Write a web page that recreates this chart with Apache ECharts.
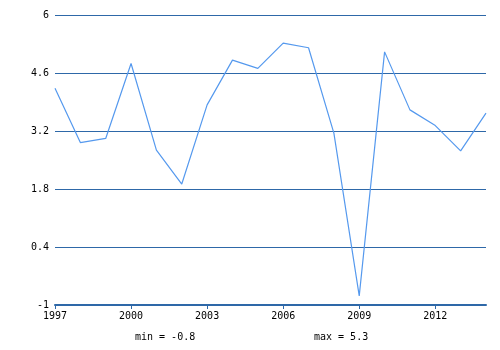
<!DOCTYPE html>
<html><head><meta charset="utf-8">
<script src="https://cdn.jsdelivr.net/npm/echarts@6/dist/echarts.min.js"></script>
<style>html,body{margin:0;padding:0;background:#fff}#c{width:500px;height:350px}</style>
</head><body><div id="c"></div>
<script>
var years = [1997,1998,1999,2000,2001,2002,2003,2004,2005,2006,2007,2008,2009,2010,2011,2012,2013,2014];
var values = [4.23,2.92,3.02,4.83,2.74,1.92,3.83,4.91,4.71,5.32,5.21,3.15,-0.78,5.11,3.71,3.33,2.72,3.63];
var yTicks = [-1,0.4,1.8,3.2,4.6,6];
var minText = "min = -0.8";
var maxText = "max = 5.3";

var font = "DejaVu Sans Mono";
var chart = echarts.init(document.getElementById('c'), null, {renderer:'canvas'});
chart.setOption({
  animation:false,
  backgroundColor:'#fff',
  grid:{left:55,right:14,top:15,bottom:45,containLabel:false},
  xAxis:{type:'value',min:1997,max:2014,interval:3,
    axisLine:{show:true,onZero:false,lineStyle:{color:'#2e68a8',width:2}},
    axisTick:{show:true,length:4,lineStyle:{color:'#2e68a8',width:1}},
    axisLabel:{color:'#000',fontFamily:font,fontSize:10,margin:6,showMaxLabel:false,
      formatter:function(v){return String(v);}},
    splitLine:{show:false}},
  yAxis:{type:'value',min:-1,max:6,interval:1.4,
    axisLine:{show:false},axisTick:{show:false},
    axisLabel:{color:'#000',fontFamily:font,fontSize:10,margin:6,
      formatter:function(v){return String(Math.round(v*10)/10);}},
    splitLine:{show:true,lineStyle:{color:'#2e68a8',width:1}}},
  series:[{type:'line',data:years.map(function(y,i){return [y,values[i]];}),
    symbol:'none',lineStyle:{color:'#5599ee',width:1.2}}],
  graphic:[
    {type:'text',left:135,top:332,style:{text:minText,font:'10px "DejaVu Sans Mono"',fill:'#000'}},
    {type:'text',left:314,top:332,style:{text:maxText,font:'10px "DejaVu Sans Mono"',fill:'#000'}}
  ]
});
</script></body></html>
